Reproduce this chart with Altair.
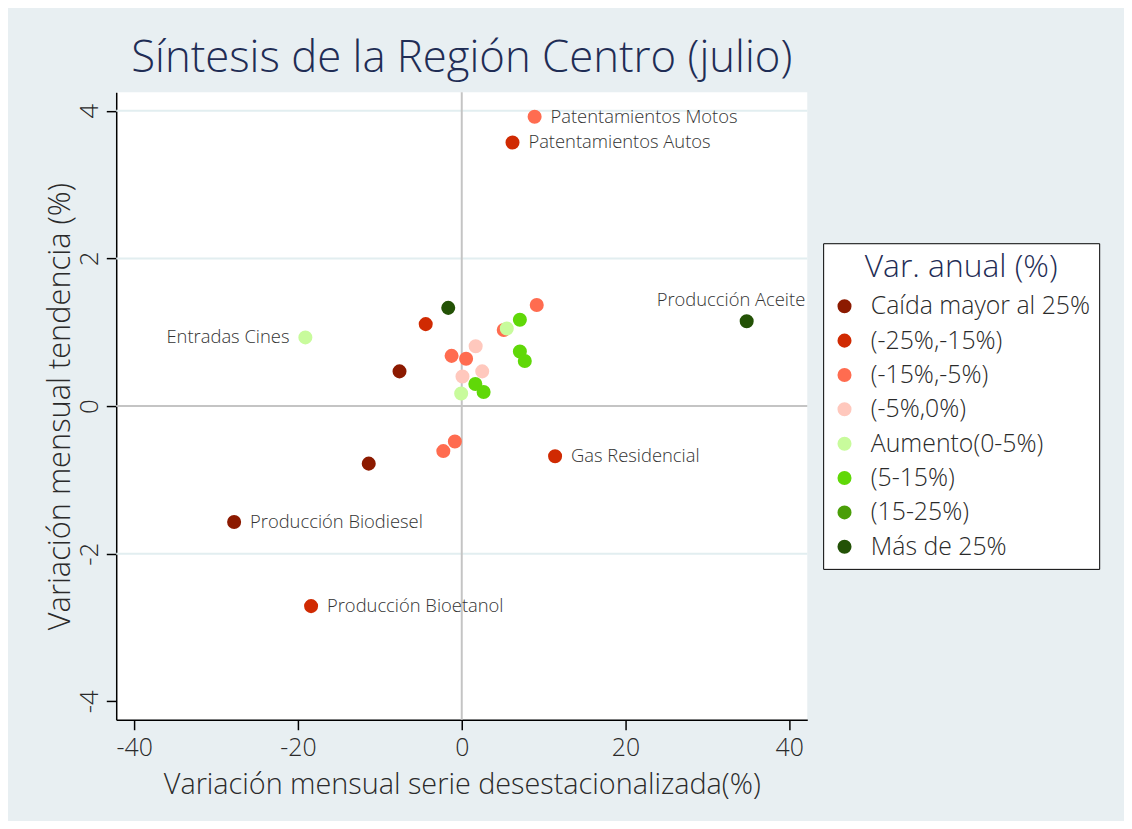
import altair as alt
import pandas as pd

# ---------------- data ----------------
names = [
    "Patentamientos Motos", "Patentamientos Autos", "Producción Aceite", "Entradas Cines",
    "Gas Residencial", "Producción Biodiesel", "Producción Bioetanol",
    "", "", "", "", "", "", "", "", "", "", "", "", "", "", "", "", "", "", "", "",
]
x_vals = [
    8.9, 6.2, 34.8, -19.1,
    11.4, -27.8, -18.4,
    -1.65, -4.4, 9.16, 7.1, 5.13, 5.5, -7.6, 1.7, -1.24, 0.53, 7.1, 7.7, 0.09, 2.5,
    1.66, 2.67, -0.07, -0.84, -2.25, -11.36,
]
y_vals = [
    3.92, 3.57, 1.15, 0.93,
    -0.68, -1.57, -2.71,
    1.33, 1.11, 1.37, 1.17, 1.03, 1.05, 0.47, 0.81, 0.68, 0.64, 0.74, 0.61, 0.40, 0.47,
    0.30, 0.19, 0.17, -0.48, -0.61, -0.78,
]
AUM = "\u00a0Aumento(0-5%)"
categories = [
    "(-15%,-5%)", "(-25%,-15%)", "Más de 25%", AUM,
    "(-25%,-15%)", "Caída mayor al 25%", "(-25%,-15%)",
    "Más de 25%", "(-25%,-15%)", "(-15%,-5%)", "(5-15%)", "(-15%,-5%)", AUM,
    "Caída mayor al 25%", "(-5%,0%)", "(-15%,-5%)", "(-15%,-5%)", "(5-15%)", "(5-15%)",
    "(-5%,0%)", "(-5%,0%)", "(5-15%)", "(5-15%)", AUM, "(-15%,-5%)",
    "(-15%,-5%)", "Caída mayor al 25%",
]

cat_order = ["Caída mayor al 25%", "(-25%,-15%)", "(-15%,-5%)", "(-5%,0%)",
             AUM, "(5-15%)", "(15-25%)", "Más de 25%"]
cat_colors = ["#8c1a00", "#d02a02", "#ff6c50", "#ffc8bd",
              "#c8fb9c", "#60d808", "#4a9e08", "#235206"]

x_ticks = [-40, -20, 0, 20, 40]
y_ticks = [-4, -2, 0, 2, 4]
grid_y = [4, 2, -2]
zero_ref = [0]

label_right = ["Patentamientos Motos", "Patentamientos Autos", "Gas Residencial",
               "Producción Biodiesel", "Producción Bioetanol"]
label_left = ["Entradas Cines"]
label_top = ["Producción Aceite"]

# ---------------- chart ----------------
FONT = "Open Sans"
NAVY = "#1f2d55"
TXT = "#2a2a2a"

df = pd.DataFrame({"name": names, "x": x_vals, "y": y_vals, "cat": categories})
grid_df = pd.DataFrame({"y": grid_y})
zero_df = pd.DataFrame({"v": zero_ref})

xs = alt.Scale(domain=[-42.2, 42.2], nice=False, zero=False)
ys = alt.Scale(domain=[-4.25, 4.25], nice=False, zero=False)

x_axis = alt.Axis(values=x_ticks, title="Variación mensual serie desestacionalizada(%)",
                  labelExpr="datum.value + ''",
                  grid=False, domainColor="black", domainWidth=1.5, tickColor="black",
                  tickWidth=1.5, tickSize=10, labelFontSize=25, labelFont=FONT,
                  labelFontWeight=300, labelColor=TXT, labelPadding=6,
                  titleFontSize=29, titleFont=FONT, titleColor=TXT,
                  titleFontWeight=300, titlePadding=10)
y_axis = alt.Axis(values=y_ticks, title="Variación mensual tendencia (%)",
                  labelExpr="datum.value + ''",
                  grid=False, domainColor="black", domainWidth=1.5, tickColor="black",
                  tickWidth=1.5, tickSize=10, labelFontSize=26, labelFont=FONT,
                  labelFontWeight=300, labelColor=TXT, labelAngle=270,
                  labelAlign="center", labelBaseline="bottom", labelPadding=4,
                  titleFontSize=31, titleFont=FONT, titleColor=TXT,
                  titleFontWeight=300, titlePadding=0)

grid = alt.Chart(grid_df).mark_rule(color="#e2eef0", strokeWidth=2).encode(
    y=alt.Y("y:Q", scale=ys, axis=y_axis)
)
vref = alt.Chart(zero_df).mark_rule(color="#c4c4c4", strokeWidth=2).encode(
    x=alt.X("v:Q", scale=xs, axis=x_axis)
)
href = alt.Chart(zero_df).mark_rule(color="#c4c4c4", strokeWidth=2).encode(
    y=alt.Y("v:Q", scale=ys)
)

points = alt.Chart(df).mark_circle(size=200, opacity=1).encode(
    x=alt.X("x:Q", scale=xs),
    y=alt.Y("y:Q", scale=ys),
    color=alt.Color(
        "cat:N",
        scale=alt.Scale(domain=cat_order, range=cat_colors),
        legend=alt.Legend(
            title="Var. anual (%)", orient="none", legendX=712, legendY=152,
            fillColor="white", strokeColor="black", padding=9,
            titleFontSize=32, titleFont=FONT, titleColor=NAVY,
            titleFontWeight=300, titleAnchor="middle", titlePadding=10,
            titleLimit=500,
            labelFontSize=25, labelFont=FONT, labelFontWeight=300,
            labelColor=TXT, labelOffset=14,
            symbolType="circle", symbolSize=200, symbolStrokeWidth=0,
            symbolOpacity=1, rowPadding=8.6, labelLimit=500,
        ),
    ),
)

base_text = alt.Chart(df).encode(
    x=alt.X("x:Q", scale=xs), y=alt.Y("y:Q", scale=ys), text="name:N"
)
txt_kw = dict(baseline="middle", fontSize=18.5, font=FONT, fontWeight=300, color="#333333")
txt_right = base_text.transform_filter(
    alt.FieldOneOfPredicate(field="name", oneOf=label_right)
).mark_text(align="left", dx=16, **txt_kw)
txt_left = base_text.transform_filter(
    alt.FieldOneOfPredicate(field="name", oneOf=label_left)
).mark_text(align="right", dx=-16, **txt_kw)
txt_top = base_text.transform_filter(
    alt.FieldOneOfPredicate(field="name", oneOf=label_top)
).mark_text(align="right", dx=59, dy=-21, **txt_kw)

chart = alt.layer(grid, vref, href, points, txt_right, txt_left, txt_top).properties(
    width=696,
    height=632,
    autosize=alt.AutoSizeParams(type="none"),
    padding={"left": 109, "top": 82, "right": 319, "bottom": 99},
    background="#e8eff2",
    title=alt.TitleParams(
        "Síntesis de la Región Centro (julio)", fontSize=44, font=FONT,
        color=NAVY, fontWeight=300, anchor="middle", offset=10,
    ),
).configure_view(fill="white", strokeWidth=0)

chart.save("out.html", embed_options={"renderer": "svg", "actions": False})
